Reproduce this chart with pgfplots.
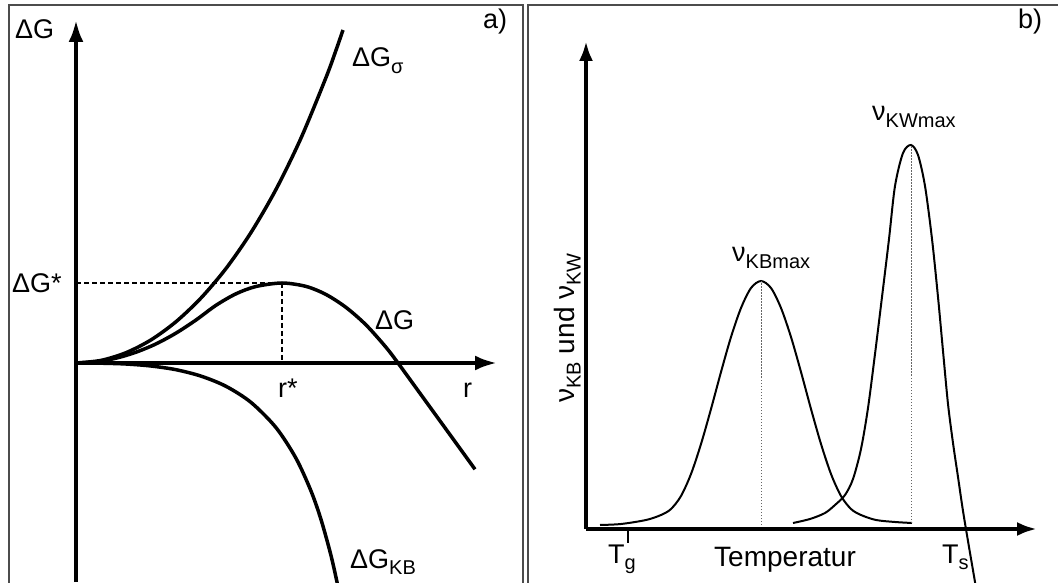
\documentclass[border=0pt]{standalone}
\usepackage{fontspec}
\setmainfont{Liberation Sans}
\usepackage{pgfplots}
\pgfplotsset{compat=1.18}
\usetikzlibrary{arrows.meta}
\newcommand\fs[1]{\fontsize{#1}{#1}\selectfont}
\newcommand\sub[1]{\raisebox{-0.24em}{\fs{20}#1}}
\begin{document}
\begin{tikzpicture}[x=1pt,y=1pt,every node/.style={inner sep=0pt,font=\fs{27}}]
\useasboundingbox (0,0) rectangle (1058,582);
% panel frames
\draw[black!70, line width=1.3pt] (9,-10) -- (9,577) -- (523,577) -- (523,-10);
\draw[black!70, line width=1.3pt] (528,-10) -- (528,577) -- (1070,577);

% ---------------- panel a ----------------
\begin{axis}[at={(76,0)}, anchor=south west, scale only axis,
  width=421pt, height=562pt,
  xmin=0, xmax=4.21, ymin=-2.19, ymax=3.43,
  axis lines=middle,
  axis line style={line width=4pt},
  x axis line style={-{Latex[length=22pt,width=15pt]}},
  y axis line style={-{Latex[length=22pt,width=15pt]}},
  xtick=\empty, ytick=\empty, clip=false]
% Delta G sigma
\addplot[black, line width=3.5pt, smooth, no marks] coordinates {
(0,0) (0.25,0.026) (0.5,0.103) (0.75,0.231) (1.0,0.413) (1.25,0.650)
(1.5,0.945) (1.75,1.305) (2.0,1.736) (2.25,2.249) (2.5,2.855) (2.6,3.128)
(2.67,3.33)};
% Delta G
\addplot[black, line width=3.5pt, smooth, no marks] coordinates {
(0,0) (0.2,0.012) (0.4,0.048) (0.6,0.108) (0.8,0.191) (1.0,0.299)
(1.2,0.430) (1.4,0.577) (1.6,0.692) (1.8,0.765) (2.06,0.80) (2.3,0.766)
(2.5,0.685) (2.7,0.556) (2.9,0.381) (3.1,0.157) (3.22,0) (3.4,-0.248)
(3.6,-0.524) (3.8,-0.800) (3.99,-1.063)};
% Delta G KB
\addplot[black, line width=3.5pt, smooth, no marks] coordinates {
(0,0) (0.25,-0.002) (0.5,-0.010) (0.75,-0.030) (1.0,-0.067) (1.25,-0.131)
(1.5,-0.233) (1.75,-0.394) (2.0,-0.646) (2.2,-0.953) (2.35,-1.280)
(2.45,-1.565) (2.55,-1.925) (2.62,-2.237) (2.65,-2.390)};
\addplot[black, line width=2pt, dash pattern=on 5pt off 3pt, no marks] coordinates {
(0,0.80) (2.06,0.80)};
\addplot[black, line width=2pt, dash pattern=on 5pt off 3pt, no marks] coordinates {
(2.06,0.80) (2.06,0)};
\end{axis}

% ---------------- panel b ----------------
\begin{axis}[at={(586,53)}, anchor=south west, scale only axis,
  width=451pt, height=488pt,
  xmin=0, xmax=4.51, ymin=0, ymax=4.88,
  axis lines=left,
  axis line style={line width=4pt},
  x axis line style={-{Latex[length=20pt,width=14pt]}},
  y axis line style={-{Latex[length=20pt,width=14pt]}},
  xtick=\empty, ytick=\empty, clip=false]
\addplot[black, line width=2pt, smooth, no marks] coordinates {
(0.14,0.04) (0.35,0.05) (0.60,0.09) (0.75,0.14) (0.85,0.20) (0.95,0.33)
(1.05,0.55) (1.15,0.85) (1.25,1.20) (1.35,1.57) (1.45,1.92) (1.55,2.21)
(1.65,2.41) (1.75,2.48) (1.85,2.41) (1.95,2.21) (2.05,1.92) (2.15,1.57)
(2.25,1.20) (2.35,0.85) (2.45,0.55) (2.55,0.33) (2.65,0.20) (2.75,0.14)
(2.90,0.09) (3.09,0.07) (3.26,0.06)};
\addplot[black, line width=2pt, smooth, no marks] coordinates {
(2.07,0.06) (2.24,0.10) (2.39,0.16) (2.49,0.24) (2.59,0.34) (2.67,0.50)
(2.75,0.80) (2.82,1.21) (2.89,1.75) (2.96,2.32) (3.03,2.90) (3.09,3.43)
(3.17,3.76) (3.25,3.84) (3.32,3.74) (3.39,3.43) (3.46,2.90) (3.52,2.32)
(3.57,1.78) (3.62,1.25) (3.67,0.86) (3.72,0.52) (3.77,0.18) (3.83,-0.18)
(3.89,-0.53) (3.94,-0.83)};
\addplot[black!60, line width=0.9pt, dash pattern=on 1.5pt off 1.5pt, no marks] coordinates {
(1.75,0.04) (1.75,2.48)};
\addplot[black!60, line width=0.9pt, dash pattern=on 1.5pt off 1.5pt, no marks] coordinates {
(3.25,0.06) (3.25,3.84)};
\addplot[black, line width=1.5pt, no marks] coordinates {(0.42,0) (0.42,-0.14)};
\end{axis}

% ---------------- labels ----------------
\node[anchor=base west] at (15,543) {ΔG};
\node[anchor=center] at (495,560) {a)};
\node[anchor=center] at (1030,560) {b)};
\node[anchor=base west] at (352,515) {ΔG\sub{σ}};
\node[anchor=base west] at (12,289) {ΔG*};
\node[anchor=base west] at (375,253) {ΔG};
\node[anchor=base west] at (278,185) {r*};
\node[anchor=base west] at (463,185) {r};
\node[anchor=base west] at (350,14) {ΔG\sub{KB}};
\node[anchor=base west] at (872,461) {ν\sub{KWmax}};
\node[anchor=base west] at (732,320) {ν\sub{KBmax}};
\node[anchor=base, rotate=90, font=\fs{28}] at (574,254) {ν\sub{KB} und ν\sub{KW}};
\node[anchor=base, font=\fs{28}] at (785,16) {Temperatur};
\node[anchor=base west] at (608,19) {T\sub{g}};
\node[anchor=base west] at (942,19) {T\sub{s}};
\end{tikzpicture}
\end{document}
